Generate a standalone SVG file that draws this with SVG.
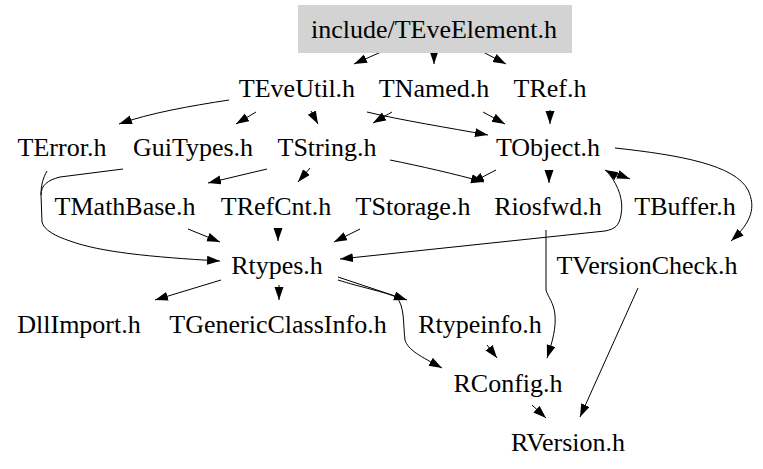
<svg xmlns="http://www.w3.org/2000/svg" width="763" height="469" viewBox="0 0 763 469">
<style>
text{font-family:"Liberation Serif","Times New Roman",serif;font-size:26px;fill:#000;text-anchor:middle}
.e{fill:none;stroke:#000;stroke-width:1;marker-end:url(#ah)}
.l{fill:none;stroke:#000;stroke-width:1}
.root{fill:#d3d3d3;stroke:none}
</style>
<defs>
<marker id="ah" markerUnits="userSpaceOnUse" markerWidth="14" markerHeight="10" refX="13" refY="4.5" orient="auto">
<path d="M0,0 L13,4.5 L0,9 z" fill="#000"/>
</marker>
</defs>
<rect width="763" height="469" fill="#fff"/>
<g id="edges">
<path class="e" d="M381,52 L354,64"/>
<path class="e" d="M434,52 L434,64"/>
<path class="e" d="M483,52 L506,64"/>
<path class="e" d="M229,100 C190,106 150,113 119,124"/>
<path class="e" d="M256,112 L236,124"/>
<path class="e" d="M311,111 L318,124"/>
<path class="e" d="M367,112 C400,120 450,128 488,135"/>
<path class="e" d="M392,112 L373,123"/>
<path class="e" d="M483,112 L505,124"/>
<path class="e" d="M550,110 L550,124"/>
<path class="e" d="M267,169 L208,183"/>
<path class="e" d="M310,168 L298,182"/>
<path class="e" d="M390,160 C420,166 455,174 484,182"/>
<path class="e" d="M496,170 L471,183"/>
<path class="e" d="M549,170 L549,183"/>
<path class="e" d="M617,174 L630,179"/>
<path class="e" d="M618,177 L605,170"/>
<path class="e" d="M610,175 C618,186 624,200 621,215 C619,226 615,229 605,231 L340,259"/>
<path class="e" d="M615,148 C680,155 735,165 748,190 C756,207 752,222 731,241"/>
<path class="e" d="M188,229 L220,242"/>
<path class="e" d="M278,228 L278,241"/>
<path class="e" d="M360,229 L334,242"/>
<path class="e" d="M47,171 C43,178 41,185 41,195 L42,222 C44,230 55,236 70,241 C100,252 150,257 220,261"/>
<path class="l" d="M123,169 L60,177 C48,180 41,185 41,195"/>
<path class="e" d="M221,280 L155,300"/>
<path class="e" d="M279,285 L279,300"/>
<path class="e" d="M338,277 L407,300"/>
<path class="e" d="M338,280 C360,287 385,292 396,297 C405,305 403,325 405,340 C408,350 420,356 442,368"/>
<path class="e" d="M487,345 L497,358"/>
<path class="e" d="M546,230 L546,290 C548,297 554,303 555,315 C556,328 553,340 547,358"/>
<path class="e" d="M638,288 L580,417"/>
<path class="e" d="M532,405 L546,418"/>
</g>
<g id="node-TEveElement"><rect class="root" x="298" y="5" width="274" height="48"/><text x="434" y="38">include/TEveElement.h</text></g>
<g id="node-TEveUtil"><text x="297" y="97">TEveUtil.h</text></g>
<g id="node-TNamed"><text x="434" y="97">TNamed.h</text></g>
<g id="node-TRef"><text x="550" y="97">TRef.h</text></g>
<g id="node-TError"><text x="62" y="156">TError.h</text></g>
<g id="node-GuiTypes"><text x="193" y="156">GuiTypes.h</text></g>
<g id="node-TString"><text x="327" y="156">TString.h</text></g>
<g id="node-TObject"><text x="548" y="156">TObject.h</text></g>
<g id="node-TMathBase"><text x="125" y="215">TMathBase.h</text></g>
<g id="node-TRefCnt"><text x="276" y="215">TRefCnt.h</text></g>
<g id="node-TStorage"><text x="413" y="215">TStorage.h</text></g>
<g id="node-Riosfwd"><text x="548" y="215">Riosfwd.h</text></g>
<g id="node-TBuffer"><text x="685" y="215">TBuffer.h</text></g>
<g id="node-Rtypes"><text x="277" y="274">Rtypes.h</text></g>
<g id="node-TVersionCheck"><text x="647" y="274">TVersionCheck.h</text></g>
<g id="node-DllImport"><text x="79" y="333">DllImport.h</text></g>
<g id="node-TGenericClassInfo"><text x="278" y="333">TGenericClassInfo.h</text></g>
<g id="node-Rtypeinfo"><text x="480" y="333">Rtypeinfo.h</text></g>
<g id="node-RConfig"><text x="508" y="392">RConfig.h</text></g>
<g id="node-RVersion"><text x="568" y="451">RVersion.h</text></g>
</svg>
